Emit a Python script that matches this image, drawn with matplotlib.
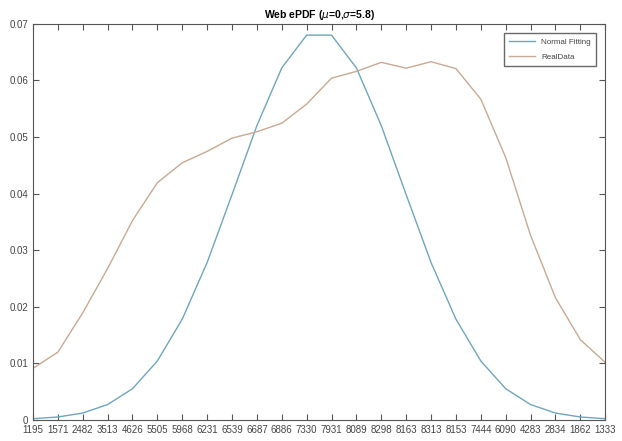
import matplotlib
matplotlib.use("Agg")
from matplotlib import pyplot as plt
import numpy as np

plt.rcParams['font.family'] = ['Liberation Sans', 'DejaVu Sans']

# raw counts per bin, also used as the x tick labels
counts = [1195, 1571, 2482, 3513, 4626, 5505, 5968, 6231, 6539, 6687, 6886, 7330,
          7931, 8089, 8298, 8163, 8313, 8153, 7444, 6090, 4283, 2834, 1862, 1333]

# fitted normal curve at each bin
normal_fit = [0.0002, 0.0005, 0.0012, 0.0027, 0.0055, 0.0104, 0.0178, 0.0278,
              0.0398, 0.0520, 0.0622, 0.0680, 0.0680, 0.0622, 0.0520, 0.0398,
              0.0278, 0.0178, 0.0104, 0.0055, 0.0027, 0.0012, 0.0005, 0.0002]

counts = np.array(counts)
real_pdf = counts / counts.sum()
x = np.arange(1, len(counts) + 1)

fig = plt.figure(figsize=(6.22, 4.41), dpi=100)
ax = fig.add_axes([0.053, 0.048, 0.920, 0.898])

ax.plot(x, normal_fit, color='#6fa6bd', lw=1.0, label='Normal Fitting')
ax.plot(x, real_pdf, color='#c9a993', lw=1.0, label='RealData')

ax.set_xlim(1, len(counts))
ax.set_ylim(0, 0.07)
ax.set_xticks(x)
ax.set_xticklabels([str(c) for c in counts])
ax.set_yticks(np.arange(0, 0.071, 0.01))
ax.set_yticklabels(['0', '0.01', '0.02', '0.03', '0.04', '0.05', '0.06', '0.07'])

ax.tick_params(direction='in', top=True, right=True, length=4, width=0.8,
               colors='#555555', labelsize=7, labelcolor='#444444')
for s in ax.spines.values():
    s.set_color('#555555')
    s.set_linewidth(0.8)

ax.set_title(r'Web ePDF ($\mu$=0,$\sigma$=5.8)', fontsize=7.5, fontweight='bold', pad=4)

ax.legend(loc='upper right', fontsize=5.8, frameon=True, fancybox=False,
          edgecolor='#444444', handlelength=3.2, labelspacing=0.9,
          borderpad=0.6, borderaxespad=1.2, labelcolor='#444444')

fig.savefig('out.png', dpi=100)
plt.close()
